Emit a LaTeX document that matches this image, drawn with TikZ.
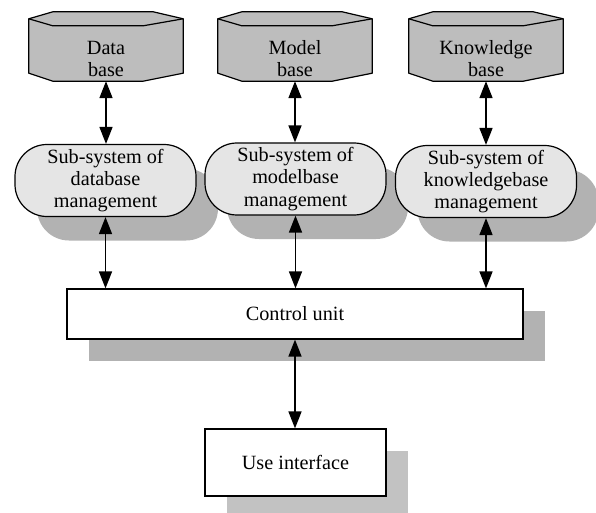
\documentclass[tikz,border=0pt]{standalone}
\usepackage{fontspec}
\setmainfont{Liberation Serif}
\usetikzlibrary{arrows.meta,shadows,backgrounds}

\tikzset{
  dbase/.style={minimum width=154bp, minimum height=55bp, inner sep=0pt, align=center},
  dbshape/.style={fill=black!26, draw, line width=1.2bp, line join=round},
  subsys/.style={draw, line width=1.2bp, fill=black!10, rounded corners=32bp,
    minimum width=181bp, minimum height=72bp, inner sep=0pt, align=center,
    drop shadow={shadow xshift=22bp, shadow yshift=-24bp, fill=black!30, opacity=1}},
  unitbox/.style={draw, line width=1.2bp, fill=white, inner sep=0pt,
    drop shadow={shadow xshift=22bp, shadow yshift=-22bp, fill=black!30, opacity=1}},
  link/.style={{Triangle[length=17bp,width=13bp]}-{Triangle[length=17bp,width=13bp]}, line width=1.6bp},
}

\begin{document}
\begin{tikzpicture}[x=1bp, y=-1bp, font=\fontsize{20.3}{22.5}\selectfont]
\useasboundingbox (0,0) rectangle (596,513);

% bases
\node[dbase] (data) at (106,53.5) {\rule{0pt}{24bp}Data\\base};
\node[dbase] (model) at (295,53.5) {\rule{0pt}{24bp}Model\\base};
\node[dbase] (know) at (486,53.5) {\rule{0pt}{24bp}Knowledge\\base};

\begin{pgfonlayer}{background}
\foreach \n in {data,model,know} {
  \path[dbshape] ([yshift=7bp]\n.north west) -- ([xshift=24bp,yshift=14bp]\n.north west)
    -- ([xshift=-30bp,yshift=14bp]\n.north east) -- ([yshift=7bp]\n.north east)
    -- ([yshift=8bp]\n.south east) -- ([xshift=-40bp]\n.south east)
    -- ([xshift=24bp]\n.south west) -- ([yshift=8bp]\n.south west) -- cycle;
  \draw[line width=1.2bp, line join=round] ([yshift=7bp]\n.north west) -- ([xshift=24bp]\n.north west)
    -- ([xshift=-40bp]\n.north east) -- ([yshift=7bp]\n.north east);
}
\end{pgfonlayer}

% management sub-systems
\node[subsys] (subdb) at (105.5,180.5) {Sub-system of\\database\\management};
\node[subsys] (submb) at (295.5,179) {Sub-system of\\modelbase\\management};
\node[subsys] (subkb) at (486,181.5) {Sub-system of\\knowledgebase\\management};

\node[unitbox, minimum width=456bp, minimum height=50bp] (ctrl) at (295,314) {Control unit};
\node[unitbox, minimum width=181bp, minimum height=67bp,
  drop shadow={shadow xshift=22bp, shadow yshift=-22bp, fill=black!24, opacity=1}] (ui) at (295.5,462.5) {Use interface};

\foreach \a/\b in {data/subdb, model/submb, know/subkb, subdb/ctrl, submb/ctrl, subkb/ctrl, ctrl/ui}
  \draw[link] (\a.south) -- (\a.south |- \b.north);

\end{tikzpicture}
\end{document}
